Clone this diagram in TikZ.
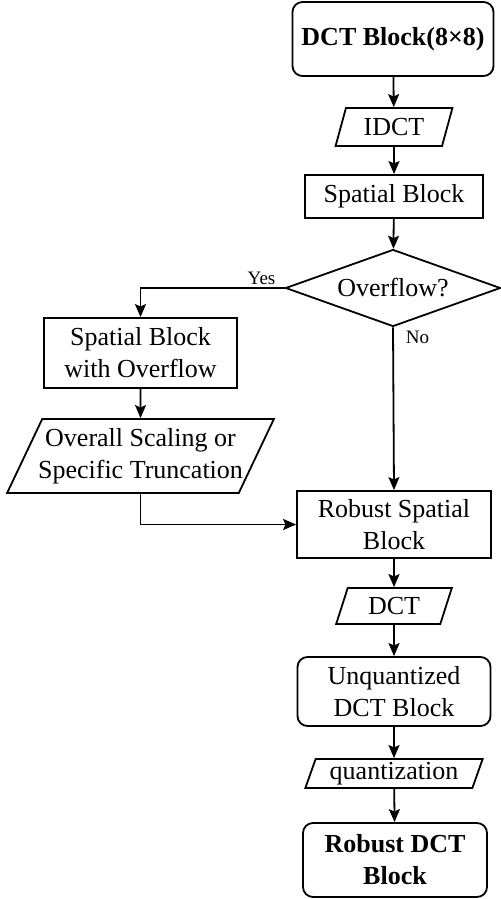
\documentclass[tikz,border=0pt]{standalone}
\usepackage{fontspec}
\setmainfont{Liberation Serif}
\usetikzlibrary{shapes.geometric,arrows.meta}

\begin{document}
\begin{tikzpicture}[x=0.5pt,y=-0.5pt,
    line width=0.9pt,
    >={Stealth[length=6.5pt,width=5.5pt,inset=1.2pt]},
    every node/.style={font=\fontsize{13}{16}\selectfont},
    block/.style={draw,rectangle,align=center,inner sep=1pt},
    rblock/.style={block,rounded corners=5pt},
    io/.style={draw,trapezium,trapezium left angle=#1,trapezium right angle=180-#1,
      trapezium stretches=true,align=center,inner sep=1pt},
    io/.default=72,
    decide/.style={draw,diamond,aspect=2.8,inner sep=0pt},
    lbl/.style={font=\fontsize{9.5}{11}\selectfont,inner sep=1pt}]
    \useasboundingbox (0,0) rectangle (501,899);

    % main column
    \node[rblock,font=\fontsize{13}{16}\selectfont\bfseries,minimum width=100.5pt,minimum height=37pt] (DCTin) at (393,39) {DCT Block(8×8)};
    \node[io,minimum width=58.5pt,minimum height=19pt] (IDCT) at (394,127) {IDCT};
    \node[block,minimum width=89pt,minimum height=21.5pt] (Spatial) at (394,196.5) {Spatial Block};
    \node[decide,minimum width=107.5pt,minimum height=38.5pt] (Overflow) at (393,288) {Overflow?};

    % left branch
    \node[block,minimum width=96.5pt,minimum height=35pt] (SpOver) at (140.5,353) {Spatial Block\\with Overflow};
    \node[io=61,inner xsep=-5pt,minimum width=133.5pt,minimum height=37pt] (Scaling) at (140.5,456) {Overall Scaling or\\Specific Truncation};

    \node[block,minimum width=97pt,minimum height=33.5pt] (RobSpatial) at (394,524.5) {Robust Spatial\\Block};
    \node[io,minimum width=58pt,minimum height=18pt] (DCT) at (394,606) {DCT};
    \node[rblock,minimum width=96.5pt,minimum height=34.5pt] (Unquant) at (394,691.5) {Unquantized\\DCT Block};
    \node[io,minimum width=89pt,minimum height=14.5pt] (Quant) at (394,773.5) {quantization};
    \node[rblock,font=\fontsize{13}{16}\selectfont\bfseries,minimum width=92pt,minimum height=37pt] (RobDCT) at (395,860) {Robust DCT\\Block};

    \draw[->] (DCTin) -- (IDCT);
    \draw[->] (IDCT) -- (Spatial);
    \draw[->] (Spatial) -- (Overflow);
    \draw[->] (Overflow.west) -| node[lbl,pos=0.08,above] (Yes) {Yes} (SpOver.north);
    \draw[->] (SpOver) -- (Scaling);
    \draw[->] (Scaling.south) |- (RobSpatial.west);
    \draw[->] (Overflow.south) -- node[lbl,pos=0.06,right=5pt] (No) {No} (RobSpatial.north);
    \draw[->] (RobSpatial) -- (DCT);
    \draw[->] (DCT) -- (Unquant);
    \draw[->] (Unquant) -- (Quant);
    \draw[->] (Quant) -- (RobDCT);
\end{tikzpicture}
\end{document}
